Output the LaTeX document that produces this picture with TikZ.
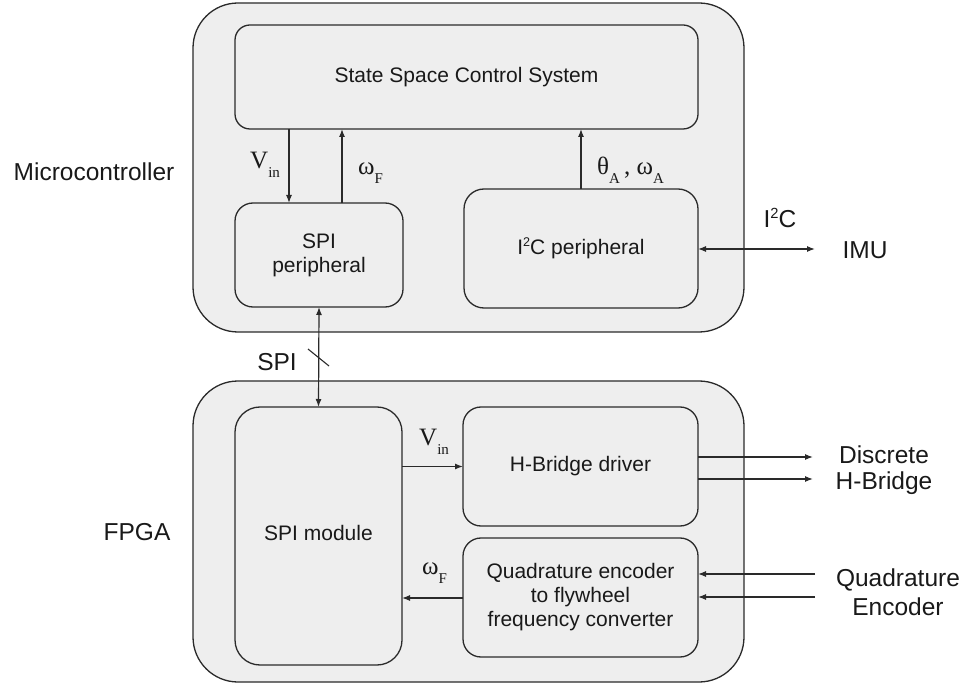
\documentclass[tikz,border=0pt]{standalone}
\usepackage{fontspec}
\setmainfont{Liberation Sans}
\newfontfamily\greekserif{Liberation Serif}
\usetikzlibrary{arrows.meta}
\definecolor{panel}{HTML}{EEEEEE}
\definecolor{ink}{HTML}{2A2A2A}
\newcommand\lowsub[1]{\raisebox{-9pt}{\fontsize{15}{15}\selectfont #1}}
\newcommand\highsup[1]{\raisebox{0.75ex}{\fontsize{0.6em}{1em}\selectfont #1}}
\begin{document}
\begin{tikzpicture}[x=1pt,y=-1pt,
  every node/.style={font=\fontsize{21}{24}\selectfont, text=black!90},
  extlabel/.style={font=\fontsize{24.5}{26}\selectfont},
  outerbox/.style={draw=ink, fill=panel, line width=1.3pt, rounded corners=45pt,
    inner sep=0pt, outer sep=0pt},
  block/.style={draw=ink, fill=panel, line width=1.3pt, rounded corners=18pt,
    inner sep=0pt, outer sep=0pt, align=center},
  sig/.style={font=\greekserif\fontsize{25}{25}\selectfont, anchor=base west, inner sep=0pt},
  arr/.style={draw=ink, line width=1.2pt, -{Latex[length=8pt,width=6pt]}},
  biarr/.style={draw=ink, line width=1.2pt, {Latex[length=8pt,width=6pt]}-{Latex[length=8pt,width=6pt]}},
]
\useasboundingbox (0,0) rectangle (964,684);

% containers
\node[outerbox, minimum width=551pt, minimum height=329pt] (mcu) at (468.5,167.5) {};
\node[outerbox, minimum width=551pt, minimum height=301pt] (fpga) at (468.5,531.5) {};
\node[extlabel] (mcul) at (94,172) {Microcontroller};
\node[extlabel] (fpgal) at (137,532) {FPGA};

% microcontroller blocks
\node[block, rounded corners=15pt, minimum width=463pt, minimum height=104pt] (ss) at (466.5,77) {State Space Control System};
\node[block, minimum width=168pt, minimum height=104pt] (spip) at (319,255) {SPI\\peripheral};
\node[block, rounded corners=20pt, minimum width=234pt, minimum height=119pt] (i2c) at (581,248.5) {I\highsup{2}C peripheral};

% FPGA blocks
\node[block, rounded corners=25pt, minimum width=167pt, minimum height=258pt] (spim) at (318.5,536) {};
\node (spimt) at (318.5,533) {SPI module};
\node[block, minimum width=235pt, minimum height=119pt] (hb) at (580.5,466.5) {H-Bridge driver};
\node[block, minimum width=235pt, minimum height=119pt] (enc) at (580.5,597.5) {Quadrature encoder\\to flywheel\\frequency converter};

% reference points for the vertical signal lines
\coordinate (vinx) at (289,0);
\coordinate (wfx) at (342,0);

% signals between controller blocks
\draw[arr] (ss.south -| vinx) -- (spip.north -| vinx);
\draw[arr] (spip.north -| wfx) -- (ss.south -| wfx);
\draw[arr] (i2c.north) -- (ss.south -| i2c.north);
\node[sig] (vinup) at (250,169) {V\lowsub{in}};
\node[sig] (wfup) at (358,175) {ω\lowsub{F}};
\node[sig] (thw) at (597,175) {θ\lowsub{A}\,, ω\lowsub{A}};

% I2C link
\coordinate (imuend) at (815,249);
\draw[biarr] (i2c.east |- imuend) -- (imuend);
\node[extlabel] (i2cl) at (780,218) {I\highsup{2}C};
\node[extlabel] (imu) at (865,250) {IMU};

% SPI bus
\draw[biarr] (spip.south) -- (spim.north);
\coordinate (slasha) at (308,349);
\coordinate (slashb) at (329,366);
\draw[draw=ink, line width=1.1pt] (slasha) -- (slashb);
\node[extlabel] (spil) at (277,362) {SPI};

% FPGA internal signals
\draw[arr] (hb.west -| spim.east) -- (hb.west);
\node[sig] (vindn) at (419,446) {V\lowsub{in}};
\coordinate (wfy) at (0,598);
\draw[arr] (enc.west |- wfy) -- (spim.east |- wfy);
\node[sig] (wfdn) at (422,574) {ω\lowsub{F}};

% H-bridge outputs
\coordinate (hbo1) at (813,457);
\coordinate (hbo2) at (813,479);
\draw[arr] (hb.east |- hbo1) -- (hbo1);
\draw[arr] (hb.east |- hbo2) -- (hbo2);
\node[extlabel] (disc) at (884,455) {Discrete};
\node[extlabel] (hbr) at (884,483) {H-Bridge};

% encoder inputs
\coordinate (qi1) at (815,574);
\coordinate (qi2) at (815,597);
\draw[arr] (qi1) -- (enc.east |- qi1);
\draw[arr] (qi2) -- (enc.east |- qi2);
\node[extlabel] (quad) at (898,580) {Quadrature};
\node[extlabel] (encl) at (898,607) {Encoder};
\end{tikzpicture}
\end{document}
